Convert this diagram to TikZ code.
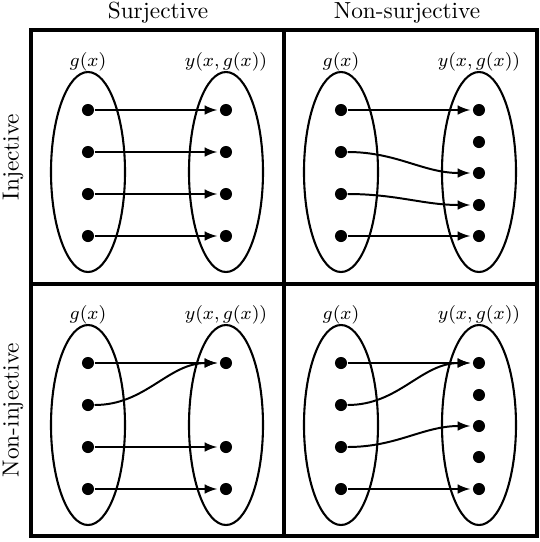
\documentclass[tikz,border=0pt]{standalone}
\usepackage{amsmath, amssymb}
\usepackage{tikz}
\usetikzlibrary{shapes, arrows, positioning}

\tikzset{
  dot/.style={circle, fill, inner sep=0pt, minimum size=5.2pt},
  setline/.style={line width=0.9pt},
  map/.style={->, line width=0.85pt, shorten >=1pt},
  lbl/.style={font=\footnotesize, inner sep=1pt},
  frame/.style={line width=1.3pt}
}

\begin{document}
\begin{tikzpicture}[x=0.0151cm, y=-0.0151cm, >=latex]
    \useasboundingbox (0,0) rectangle (540,542);
    % grid
    \draw[frame] (31,30) rectangle (537,536);
    \draw[frame] (284,30) -- (284,536);
    \draw[frame] (31,284) -- (537,284);
    \node (Surj) at (158,13) {Surjective};
    \node (NonSurj) at (407,13) {Non-surjective};
    \node[rotate=90] (Inj) at (13,157) {Injective};
    \node[rotate=90] (NonInj) at (13,410) {Non-injective};

    % the two sets of every panel
    \foreach \px/\py/\p in {0/0/A, 253/0/B, 0/253/C, 253/253/D} {
        \begin{scope}[shift={(\px,\py)}]
            \draw[setline] (88,172) ellipse (37 and 100);
            \draw[setline] (226,172) ellipse (37 and 100);
            \node[lbl] (\p glab) at (88,62) {$g(x)$};
            \node[lbl] (\p ylab) at (226,62) {$y(x,g(x))$};
            \foreach \k/\yy in {1/110, 2/152, 3/194, 4/236}
                \node[dot] (\p x\k) at (88,\yy) {};
        \end{scope}
    }

    % targets
    \foreach \k/\yy in {1/110, 2/152, 3/194, 4/236}
        \node[dot] (Ay\k) at (226,\yy) {};
    \foreach \k/\yy in {1/110, 2/142, 3/173, 4/205, 5/236}
        \node[dot] (By\k) at (479,\yy) {};
    \foreach \k/\yy in {1/363, 2/447, 3/489}
        \node[dot] (Cy\k) at (226,\yy) {};
    \foreach \k/\yy in {1/363, 2/395, 3/426, 4/457, 5/489}
        \node[dot] (Dy\k) at (479,\yy) {};

    % injective, surjective
    \draw[map] (Ax1) -- (Ay1);
    \draw[map] (Ax2) -- (Ay2);
    \draw[map] (Ax3) -- (Ay3);
    \draw[map] (Ax4) -- (Ay4);
    % injective, non-surjective
    \draw[map] (Bx1) -- (By1);
    \draw[map] (Bx2) to[out=0, in=180] (By3);
    \draw[map] (Bx3) to[out=0, in=180] (By4);
    \draw[map] (Bx4) -- (By5);
    % non-injective, surjective
    \draw[map] (Cx1) -- (Cy1);
    \draw[map] (Cx2) to[out=0, in=180] (Cy1);
    \draw[map] (Cx3) -- (Cy2);
    \draw[map] (Cx4) -- (Cy3);
    % non-injective, non-surjective
    \draw[map] (Dx1) -- (Dy1);
    \draw[map] (Dx2) to[out=0, in=180] (Dy1);
    \draw[map] (Dx3) to[out=0, in=180] (Dy3);
    \draw[map] (Dx4) -- (Dy5);
\end{tikzpicture}
\end{document}
